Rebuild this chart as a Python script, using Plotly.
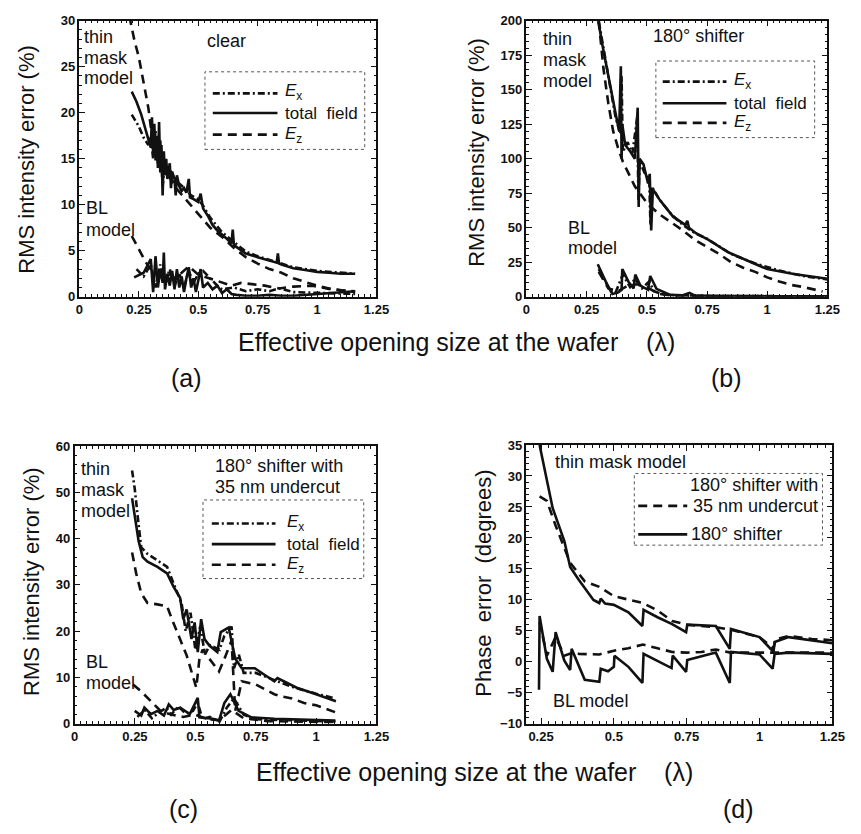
import plotly.graph_objects as go

W, H = 861, 834

# ---------------- data ----------------
# (a) clear
a_thin_tot_x = [0.22,0.24,0.26,0.28,0.29,0.30,0.305,0.31,0.315,0.32,0.325,0.33,0.335,0.34,0.345,0.35,0.355,0.36,0.365,0.37,0.38,0.385,0.39,0.40,0.405,0.41,0.42,0.43,0.44,0.45,0.46,0.465,0.48,0.50,0.51,0.52,0.54,0.56,0.58,0.60,0.62,0.64,0.645,0.65,0.66,0.70,0.75,0.80,0.83,0.835,0.84,0.85,0.90,0.95,1.00,1.05,1.10,1.16]
a_thin_tot_y = [22.3,21.2,19.8,18.0,17.0,16.2,19.5,15.5,18.8,14.8,17.5,14.0,19.0,13.5,16.5,11.0,15.8,13.2,15.0,12.8,14.5,11.8,13.6,12.8,11.0,13.2,12.0,11.5,11.8,11.3,12.8,10.8,10.6,10.3,11.2,9.6,8.8,7.8,7.2,6.8,6.3,5.8,7.3,5.6,5.4,4.7,4.3,3.9,3.7,4.7,3.6,3.5,3.1,2.9,2.7,2.6,2.5,2.5]
a_thin_ex_x = [0.22,0.25,0.27,0.29,0.30,0.31,0.32,0.33,0.34,0.35,0.36,0.37,0.38,0.40,0.42,0.45,0.47,0.50,0.52,0.55,0.60,0.65,0.70,0.75,0.80,0.85,0.90,1.00,1.10,1.16]
a_thin_ex_y = [19.8,18.5,17.3,16.5,17.5,15.0,18.0,14.5,17.0,12.0,15.0,13.0,14.0,12.5,12.3,11.6,11.0,10.6,9.9,8.6,7.0,5.9,4.9,4.4,4.0,3.6,3.2,2.8,2.6,2.5]
a_thin_ez_x = [0.21,0.23,0.25,0.265,0.28,0.29,0.30,0.31,0.33,0.35,0.38,0.40,0.45,0.50,0.55,0.60,0.65,0.70,0.75,0.80,0.85,0.90,0.95,1.00,1.05,1.10,1.16]
a_thin_ez_y = [30.5,28.0,26.0,24.0,22.0,20.5,18.5,17.0,16.0,14.5,13.0,12.0,10.5,9.0,7.5,6.5,5.3,4.3,3.6,3.0,2.6,2.0,1.6,1.2,0.9,0.7,0.6]
a_bl_tot_x = [0.23,0.27,0.30,0.31,0.32,0.33,0.34,0.35,0.355,0.36,0.37,0.38,0.39,0.40,0.41,0.42,0.43,0.44,0.45,0.46,0.47,0.48,0.49,0.50,0.51,0.52,0.54,0.56,0.58,0.60,0.62,0.64,0.66,0.70,0.75,0.80,0.85,0.90,1.00,1.05,1.10,1.16]
a_bl_tot_y = [2.1,2.6,4.1,0.5,4.4,1.0,3.0,1.5,4.8,0.8,2.5,1.2,2.8,0.8,3.0,1.0,2.2,0.5,2.0,3.2,1.0,2.0,0.5,1.8,3.0,1.0,1.5,0.8,1.2,0.4,0.8,0.3,0.2,0.1,0.1,0.2,0.1,0.1,0.3,0.4,0.5,0.6]
a_bl_ex_x = [0.24,0.27,0.30,0.32,0.34,0.36,0.38,0.40,0.42,0.44,0.46,0.48,0.50,0.52,0.55,0.58,0.60,0.65,0.70,0.75,0.80,0.84,0.90,1.00,1.10,1.16]
a_bl_ex_y = [3.0,2.2,3.5,1.0,3.5,1.5,3.0,1.2,2.5,1.0,2.8,1.5,2.5,2.8,2.0,1.2,0.8,1.0,0.6,0.8,0.6,0.9,0.5,0.4,0.3,0.3]
a_bl_ez_x = [0.22,0.25,0.28,0.30,0.33,0.36,0.40,0.43,0.46,0.50,0.56,0.60,0.64,0.68,0.72,0.78,0.84,0.90,0.98,1.05,1.10,1.16]
a_bl_ez_y = [6.6,5.1,3.7,3.0,2.4,2.8,2.0,2.6,3.3,2.4,1.9,1.6,1.2,1.5,1.4,1.2,0.9,1.1,1.2,0.85,0.7,0.5]

# (b) 180 deg shifter
b_thin_tot_x = [0.29,0.30,0.317,0.337,0.357,0.371,0.385,0.392,0.395,0.398,0.41,0.432,0.45,0.462,0.466,0.47,0.486,0.505,0.512,0.518,0.525,0.554,0.609,0.66,0.668,0.675,0.704,0.758,0.84,0.935,1.00,1.11,1.25]
b_thin_tot_y = [215,198,181,162,143,132,120,167,100,125,110,105,100,137,65,100,96,82,89,48,78,70,58,52,55,50,46,41,32,25,20,16.4,13]
b_thin_ex_x = [0.29,0.31,0.33,0.35,0.37,0.39,0.395,0.40,0.42,0.44,0.46,0.465,0.47,0.49,0.51,0.515,0.52,0.55,0.60,0.65,0.70,0.75,0.85,0.95,1.05,1.15,1.25]
b_thin_ex_y = [210,190,168,148,130,118,160,105,112,104,130,70,98,90,85,52,80,71,60,52,46,42,31,24,19,15,12.5]
b_thin_ez_x = [0.30,0.32,0.34,0.36,0.38,0.40,0.45,0.50,0.55,0.60,0.65,0.70,0.75,0.80,0.85,0.90,0.95,1.00,1.05,1.10,1.15,1.20,1.23]
b_thin_ez_y = [200,165,140,120,108,98,80,68,60,54,48,41,36,31,25,21,18,14,11,8.5,7,5,3.8]
b_bl_tot_x = [0.296,0.337,0.357,0.38,0.395,0.398,0.425,0.445,0.452,0.473,0.505,0.514,0.54,0.595,0.65,0.677,0.70,0.80,1.00,1.25]
b_bl_tot_y = [23.5,8,2,3,5,20,10.5,6,16,8,5,15,5.7,1.4,1.0,2.8,0.8,0.4,0.3,0.3]
b_bl_ex_x = [0.30,0.33,0.35,0.37,0.40,0.43,0.45,0.48,0.51,0.53,0.56,0.60,0.70,0.90,1.25]
b_bl_ex_y = [20,11,4,3,16,7,13,6,11,4,2,1.2,0.6,0.4,0.3]
b_bl_ez_x = [0.30,0.34,0.38,0.42,0.46,0.50,0.55,0.60,0.70,0.80,1.00,1.25]
b_bl_ez_y = [18,6,4,8,9,7,2,1,0.5,0.4,0.3,0.3]

# (c) 180 deg shifter with 35 nm undercut
c_thin_tot_x = [0.238,0.249,0.265,0.282,0.302,0.343,0.383,0.41,0.437,0.45,0.464,0.484,0.497,0.51,0.524,0.538,0.558,0.591,0.605,0.638,0.652,0.665,0.692,0.746,0.786,0.827,0.84,0.92,1.0,1.082]
c_thin_tot_y = [48.7,44.5,39.5,36,35,33.9,32.5,29.6,27.2,22.6,24.7,18.3,21.9,15.5,22.6,18.3,16.9,15.5,19.8,20.8,16.9,14.1,12,12,10.6,9.2,9.9,7.8,6.4,4.9]
c_thin_ex_x = [0.238,0.249,0.262,0.276,0.302,0.356,0.383,0.41,0.443,0.46,0.48,0.50,0.52,0.54,0.56,0.60,0.62,0.65,0.66,0.68,0.70,0.75,0.80,0.85,0.90,1.00,1.08]
c_thin_ex_y = [54.7,50.8,44.5,38.1,36.7,34.9,33.9,30.3,26.1,20,24,16,21,15,17,16,19,21,12,15,11,11,10,9,8,6.5,5.5]
c_thin_ez_x = [0.238,0.255,0.276,0.302,0.343,0.383,0.403,0.437,0.464,0.504,0.517,0.53,0.56,0.598,0.62,0.65,0.665,0.692,0.75,0.827,0.85,0.90,0.95,1.00,1.08]
c_thin_ez_y = [37,32.5,28.2,26.1,25.8,25.4,22.6,18.3,14.8,7.8,14.1,16,14,11.3,14,18,2.8,9.2,8.5,6.4,6,5.5,4.5,4,2.5]
c_bl_tot_x = [0.249,0.276,0.289,0.316,0.343,0.37,0.39,0.41,0.437,0.477,0.51,0.517,0.571,0.598,0.62,0.645,0.679,0.732,0.827,1.08]
c_bl_tot_y = [2.8,1.8,3.5,2.1,2.8,1.8,4.2,3.0,3.5,2.1,5.6,1.4,1.1,0.7,4.5,6.4,2.8,1.4,1.1,0.7]
c_bl_ex_x = [0.26,0.29,0.32,0.35,0.38,0.40,0.43,0.46,0.49,0.51,0.53,0.56,0.60,0.63,0.66,0.70,0.75,0.85,1.0,1.08]
c_bl_ex_y = [1.5,3.0,1.2,2.5,3.5,2.0,3.8,2.2,2.8,4.5,1.0,1.5,0.5,3.5,5.5,2.0,1.0,0.8,0.6,0.5]
c_bl_ez_x = [0.242,0.276,0.316,0.356,0.40,0.45,0.50,0.55,0.60,0.65,0.70,0.80,0.90,1.08]
c_bl_ez_y = [8.5,7.0,4.9,2.8,2.0,1.5,2.0,1.0,0.8,3.0,1.2,0.6,0.5,0.4]

# (d) phase error
d_thin_sh_x = [0.245,0.29,0.33,0.35,0.38,0.43,0.45,0.455,0.47,0.50,0.55,0.598,0.602,0.65,0.70,0.748,0.752,0.85,0.898,0.902,1.00,1.048,1.052,1.10,1.25]
d_thin_sh_y = [35,24.8,19.5,15.3,13.2,10,9.5,10.2,9.4,9.2,8,5.8,8.4,7.2,6.1,4.8,6.0,5.8,2.1,5.3,4.0,1.6,3.2,4.0,3.0]
d_thin_uc_x = [0.245,0.27,0.30,0.35,0.40,0.45,0.50,0.55,0.60,0.65,0.70,0.75,0.80,0.85,0.90,0.95,1.00,1.048,1.055,1.10,1.18,1.25]
d_thin_uc_y = [26.7,26,22,16,13,12.1,10.6,10,9.5,8.3,6.6,6,5.8,5.6,5.2,4.6,4.0,2.2,3.6,4.2,3.7,3.5]
d_bl_sh_x = [0.243,0.245,0.27,0.29,0.30,0.33,0.35,0.355,0.40,0.45,0.455,0.48,0.50,0.502,0.55,0.598,0.602,0.698,0.702,0.748,0.752,0.85,0.898,0.902,1.00,1.045,1.052,1.10,1.25]
d_bl_sh_y = [-4.5,7.4,0.5,-1.6,4.8,0.2,-1.3,2.1,-2.9,-3.2,-1.1,-1.5,-0.8,1.0,-0.8,-3.4,1.3,-1.0,1.0,-1.6,0.3,1.5,-3.4,1.6,1.2,-1.1,1.3,1.5,1.3]
d_bl_uc_x = [0.245,0.27,0.30,0.33,0.36,0.38,0.45,0.50,0.55,0.60,0.65,0.70,0.75,0.80,0.85,0.90,1.00,1.05,1.10,1.25]
d_bl_uc_y = [6.5,1.0,4.0,1.0,1.5,1.3,1.2,1.8,2.2,2.8,2.2,1.6,1.5,1.6,2.0,1.5,1.5,1.5,1.5,1.5]

x_ticks = [0, 0.25, 0.5, 0.75, 1, 1.25]
d_x_ticks = [0.25, 0.5, 0.75, 1, 1.25]
a_y_ticks = [0, 5, 10, 15, 20, 25, 30]
b_y_ticks = [0, 25, 50, 75, 100, 125, 150, 175, 200]
c_y_ticks = [0, 10, 20, 30, 40, 50, 60]
d_y_ticks = [-10, -5, 0, 5, 10, 15, 20, 25, 30, 35]

# ---------------- styles ----------------
INK = "#111111"
FONT = "Liberation Sans, Arial, sans-serif"
DASH_EX = "7px,3px,2px,3px"
DASH_EZ = "9px,6px"
LW = 2.6

def px(x):
    return x / W

def py(y):
    return 1 - y / H

fig = go.Figure()

def add_line(xs, ys, ax, dash):
    fig.add_trace(go.Scatter(x=xs, y=ys, mode="lines", xaxis="x" + ax, yaxis="y" + ax,
                             line=dict(color=INK, width=LW, dash=dash), showlegend=False,
                             hoverinfo="skip"))

for xs, ys, dash in [(a_thin_ez_x, a_thin_ez_y, DASH_EZ), (a_thin_ex_x, a_thin_ex_y, DASH_EX),
                     (a_thin_tot_x, a_thin_tot_y, "solid"), (a_bl_ez_x, a_bl_ez_y, DASH_EZ),
                     (a_bl_ex_x, a_bl_ex_y, DASH_EX), (a_bl_tot_x, a_bl_tot_y, "solid")]:
    add_line(xs, ys, "", dash)
for xs, ys, dash in [(b_thin_ez_x, b_thin_ez_y, DASH_EZ), (b_thin_ex_x, b_thin_ex_y, DASH_EX),
                     (b_thin_tot_x, b_thin_tot_y, "solid"), (b_bl_ez_x, b_bl_ez_y, DASH_EZ),
                     (b_bl_ex_x, b_bl_ex_y, DASH_EX), (b_bl_tot_x, b_bl_tot_y, "solid")]:
    add_line(xs, ys, "2", dash)
for xs, ys, dash in [(c_thin_ez_x, c_thin_ez_y, DASH_EZ), (c_thin_ex_x, c_thin_ex_y, DASH_EX),
                     (c_thin_tot_x, c_thin_tot_y, "solid"), (c_bl_ez_x, c_bl_ez_y, DASH_EZ),
                     (c_bl_ex_x, c_bl_ex_y, DASH_EX), (c_bl_tot_x, c_bl_tot_y, "solid")]:
    add_line(xs, ys, "3", dash)
for xs, ys, dash in [(d_thin_uc_x, d_thin_uc_y, DASH_EZ), (d_thin_sh_x, d_thin_sh_y, "solid"),
                     (d_bl_uc_x, d_bl_uc_y, DASH_EZ), (d_bl_sh_x, d_bl_sh_y, "solid")]:
    add_line(xs, ys, "4", dash)

def axis(domain, rng, ticks, minor_dtick, anchor):
    return dict(domain=domain, range=rng, tickvals=ticks, ticks="inside", ticklen=6,
                tickwidth=1.3, tickcolor=INK, showline=True, linecolor=INK, linewidth=1.5,
                mirror="allticks", showgrid=False, zeroline=False, anchor=anchor,
                tickfont=dict(family=FONT, size=13, color=INK, weight="bold"),
                minor=dict(ticks="inside", ticklen=3, dtick=minor_dtick, tickcolor=INK,
                           tickwidth=1, showgrid=False),
                fixedrange=True)

# pixel boxes: (left, right, top, bottom)
A = (77, 380, 14, 295)
B = (533, 840, 14, 295)
C = (72, 380, 447, 730)
D = (533, 845, 446, 730)

def xd(b):
    return [px(b[0]), px(b[1])]

def yd(b):
    return [py(b[3]), py(b[2])]

fig.update_layout(
    width=W, height=H, autosize=False,
    margin=dict(l=0, r=0, t=0, b=0),
    paper_bgcolor="white", plot_bgcolor="white",
    xaxis=axis(xd(A), [0, 1.25], x_ticks, 0.025, "y"),
    yaxis=axis(yd(A), [0, 30], a_y_ticks, 1, "x"),
    xaxis2=axis(xd(B), [0, 1.25], x_ticks, 0.025, "y2"),
    yaxis2=axis(yd(B), [0, 200], b_y_ticks, 5, "x2"),
    xaxis3=axis(xd(C), [0, 1.25], x_ticks, 0.025, "y3"),
    yaxis3=axis(yd(C), [0, 60], c_y_ticks, 2, "x3"),
    xaxis4=axis(xd(D), [0.2, 1.25], d_x_ticks, 0.025, "y4"),
    yaxis4=axis(yd(D), [-10, 35], d_y_ticks, 1, "x4"),
    showlegend=False,
)

annotations = []
shapes = []

def text(x, y, s, size=18, xanchor="left", angle=0):
    annotations.append(dict(x=px(x), y=py(y), xref="paper", yref="paper", text=s,
                            showarrow=False, xanchor=xanchor, yanchor="middle",
                            textangle=angle, font=dict(family=FONT, size=size, color=INK)))

def seg(x0, x1, y, dash):
    shapes.append(dict(type="line", xref="paper", yref="paper", x0=px(x0), x1=px(x1),
                       y0=py(y), y1=py(y), line=dict(color=INK, width=LW, dash=dash)))

def box(x0, y0, x1, y1):
    shapes.append(dict(type="rect", xref="paper", yref="paper", x0=px(x0), x1=px(x1),
                       y0=py(y1), y1=py(y0), line=dict(color="#555555", width=1, dash="dot")))

NB = "\u00a0"
EX = "<i>E</i><sub>x</sub>"
EZ = "<i>E</i><sub>z</sub>"

# y-axis titles
text(23, 155, "RMS intensity error (%)", 22, "center", -90)
text(482, 148, "RMS intensity error (%)", 22, "center", -90)
text(28, 585, "RMS intensity error (%)", 22, "center", -90)
text(489, 587, "Phase" + NB * 2 + "error" + NB * 2 + "(degrees)", 22, "center", -90)

# shared x titles and panel labels
text(462, 341, "Effective opening size at the wafer" + NB * 4 + "(λ)", 25, "center")
text(480, 779, "Effective opening size at the wafer" + NB * 4 + "(λ)", 25, "center")
text(186, 378, "(a)", 25, "center")
text(737, 378, "(b)", 25, "center")
text(183, 817, "(c)", 25, "center")
text(749, 817, "(d)", 25, "center")

# panel a texts
text(80, 31, "thin"); text(80, 52, "mask"); text(80, 72, "model")
text(82, 205, "BL"); text(82, 227, "model")
text(205, 35, "clear")
# panel b texts
text(548, 33, "thin"); text(548, 54, "mask"); text(548, 75, "model")
text(573, 225, "BL"); text(573, 245, "model")
text(660, 30, "180° shifter")
# panel c texts
text(77, 470, "thin"); text(77, 492, "mask"); text(77, 513, "model")
text(82, 667, "BL"); text(82, 688, "model")
text(213, 467, "180° shifter with"); text(213, 489, "35 nm undercut")
# panel d texts
text(560, 463, "thin" + NB + "mask" + NB + "model")
text(558, 707, "BL model")

# legends a, b, c
for (bx0, by0, bx1, by1, lx0, lx1, ys, tx) in [
        (205, 66, 368, 145, 213, 279, (88, 108, 130), 285),
        (665, 55, 827, 133, 672, 737, (76, 98, 118), 743),
        (203, 502, 367, 582, 212, 277, (526, 547, 568), 287)]:
    box(bx0, by0, bx1, by1)
    seg(lx0, lx1, ys[0], DASH_EX); text(tx, ys[0] - 1, EX, 17)
    seg(lx0, lx1, ys[1], "solid"); text(tx, ys[1], "total" + NB * 2 + "field", 17)
    seg(lx0, lx1, ys[2], DASH_EZ); text(tx, ys[2], EZ, 17)

# legend d
box(643, 475, 835, 548)
text(832, 487, "180° shifter with", 18, "right")
seg(647, 697, 508, DASH_EZ); text(832, 508, "35 nm undercut", 18, "right")
seg(647, 697, 537, "solid"); text(699, 537, "180° shifter")

fig.update_layout(annotations=annotations, shapes=shapes)

fig.write_html("out.html")
